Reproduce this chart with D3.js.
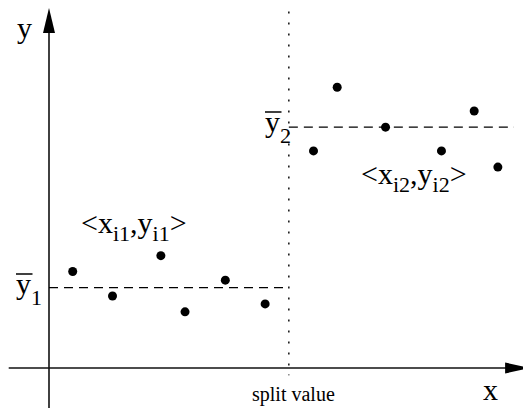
<!DOCTYPE html>
<html>
<head>
<meta charset="utf-8">
<script src="https://cdn.jsdelivr.net/npm/d3@7"></script>
<style>
  html, body { margin: 0; padding: 0; background: #fff; }
  svg { display: block; }
  text { font-family: "Liberation Serif", "Times New Roman", serif; fill: #000; }
</style>
</head>
<body>
<svg id="chart" width="523" height="408"></svg>
<script>
// Observations left and right of the split, in plot units (0..100 on each axis)
const leftX  = [5.0, 13.4, 23.6, 28.7, 37.2, 45.6];
const leftY  = [26.8, 20.0, 31.2, 15.6, 24.4, 17.8];
const rightX = [55.8, 60.8, 71.0, 82.8, 89.7, 94.7];
const rightY = [60.3, 78.0, 66.9, 60.3, 71.4, 55.8];

// Split point on x and the mean level of each side
const splitValue = 50.6;
const meanLeft  = 22.3;
const meanRight = 66.9;

// Axis extents (axes overshoot the origin slightly)
const xAxisRange = [-8.5, 101.5];
const yAxisRange = [-11.1, 100];

const svg = d3.select("#chart");
const x = d3.scaleLinear().domain([0, 100]).range([49, 523]);
const y = d3.scaleLinear().domain([0, 100]).range([368, 8]);

// ---- axes with filled arrowheads ----
const axisColor = "#111";
svg.append("line")
  .attr("x1", x(xAxisRange[0])).attr("x2", x(xAxisRange[1]) - 20)
  .attr("y1", y(0)).attr("y2", y(0))
  .attr("stroke", axisColor).attr("stroke-width", 1.6);
svg.append("line")
  .attr("x1", x(0)).attr("x2", x(0))
  .attr("y1", y(yAxisRange[0])).attr("y2", y(yAxisRange[1]) + 20)
  .attr("stroke", axisColor).attr("stroke-width", 1.6);

const xt = x(xAxisRange[1]), yt = y(yAxisRange[1]);
svg.append("path")
  .attr("d", `M${xt},${y(0)} L${xt - 25},${y(0) - 5.5} L${xt - 25},${y(0) + 5.5} Z`)
  .attr("fill", "#000");
svg.append("path")
  .attr("d", `M${x(0)},${yt} L${x(0) - 6},${yt + 25} L${x(0) + 6},${yt + 25} Z`)
  .attr("fill", "#000");

// ---- split line (dotted) ----
svg.append("line")
  .attr("x1", x(splitValue)).attr("x2", x(splitValue))
  .attr("y1", y(99)).attr("y2", y(-2))
  .attr("stroke", "#000").attr("stroke-width", 1.4)
  .attr("stroke-dasharray", "2,9");

// ---- mean levels (dashed) ----
svg.append("line")
  .attr("x1", x(0)).attr("x2", x(splitValue))
  .attr("y1", y(meanLeft)).attr("y2", y(meanLeft))
  .attr("stroke", "#000").attr("stroke-width", 1.2)
  .attr("stroke-dasharray", "9,6");
svg.append("line")
  .attr("x1", x(splitValue)).attr("x2", x(98.1))
  .attr("y1", y(meanRight)).attr("y2", y(meanRight))
  .attr("stroke", "#000").attr("stroke-width", 1.2)
  .attr("stroke-dasharray", "9,6");

// ---- points ----
const pts = leftX.map((v, i) => ({ x: v, y: leftY[i] }))
  .concat(rightX.map((v, i) => ({ x: v, y: rightY[i] })));
svg.selectAll("circle.pt").data(pts).enter().append("circle")
  .attr("class", "pt")
  .attr("cx", d => x(d.x)).attr("cy", d => y(d.y))
  .attr("r", 4.5).attr("fill", "#000");

// ---- axis labels ----
svg.append("text").attr("x", 17).attr("y", 38)
  .attr("font-size", 30).text("y");
svg.append("text").attr("x", 483).attr("y", 400)
  .attr("font-size", 30).text("x");
svg.append("text").attr("x", 252).attr("y", 401)
  .attr("font-size", 20).text("split value");

// ---- mean labels: y with an overbar and a subscript ----
function meanLabel(px, py, sub) {
  const t = svg.append("text").attr("x", px).attr("y", py).attr("font-size", 30);
  t.append("tspan").text("y");
  t.append("tspan").attr("dy", 11).attr("font-size", 22).text(sub);
  svg.append("line")
    .attr("x1", px).attr("x2", px + 16.5)
    .attr("y1", py - 20).attr("y2", py - 20)
    .attr("stroke", "#000").attr("stroke-width", 1.5);
}
meanLabel(16, 294, "1");
meanLabel(265, 132, "2");

// ---- group labels <x_ij, y_ij> ----
function groupLabel(px, py, k) {
  const t = svg.append("text").attr("x", px).attr("y", py).attr("font-size", 30);
  t.append("tspan").text("<x");
  t.append("tspan").attr("dy", 8).attr("font-size", 22).text("i" + k);
  t.append("tspan").attr("dy", -8).text(",y");
  t.append("tspan").attr("dy", 8).attr("font-size", 22).text("i" + k);
  t.append("tspan").attr("dy", -8).text(">");
}
groupLabel(81, 233, "1");
groupLabel(361, 184, "2");
</script>
</body>
</html>
